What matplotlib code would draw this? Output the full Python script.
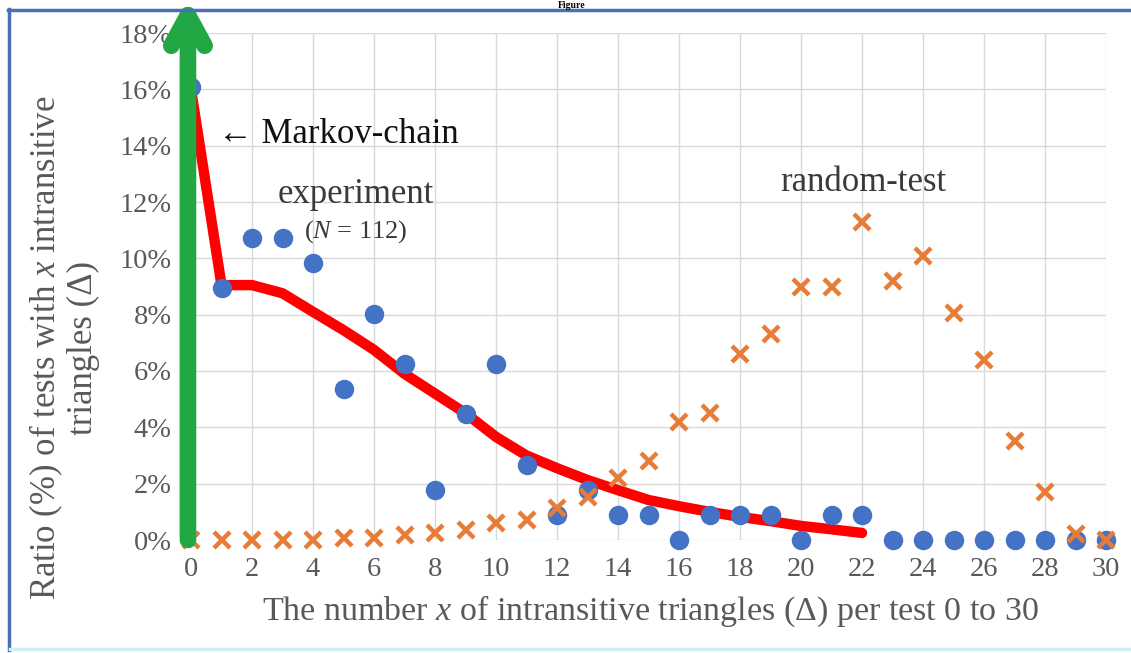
import matplotlib
matplotlib.use("Agg")
import matplotlib.pyplot as plt
from matplotlib.lines import Line2D
from matplotlib.ticker import MultipleLocator, FuncFormatter

plt.rcParams['font.family'] = ['Liberation Serif', 'DejaVu Serif']
plt.rcParams['mathtext.fontset'] = 'custom'
plt.rcParams['mathtext.rm'] = 'Liberation Serif'
plt.rcParams['mathtext.it'] = 'Liberation Serif:italic'

# ---- data ----
x_values = list(range(0, 31))
experiment = [16.07, 8.93, 10.71, 10.71, 9.82, 5.36, 8.04, 6.25, 1.79, 4.46,
              6.25, 2.68, 0.89, 1.79, 0.89, 0.89, 0.0, 0.89, 0.89, 0.89,
              0.0, 0.89, 0.89, 0.0, 0.0, 0.0, 0.0, 0.0, 0.0, 0.0, 0.0]
random_test = [0.0, 0.0, 0.0, 0.0, 0.0, 0.08, 0.08, 0.17, 0.25, 0.36,
               0.6, 0.7, 1.14, 1.53, 2.2, 2.8, 4.2, 4.5, 6.6, 7.3,
               9.0, 9.0, 11.3, 9.2, 10.1, 8.05, 6.4, 3.5, 1.7, 0.2, 0.0]
markov_x = list(range(0, 23))
markov = [16.0, 9.05, 9.05, 8.76, 8.1, 7.45, 6.75, 5.9, 5.2, 4.5, 3.66,
          3.0, 2.55, 2.13, 1.77, 1.42, 1.2, 1.0, 0.82, 0.67, 0.5, 0.38, 0.25]

W, H = 1131, 653
fig = plt.figure(figsize=(W / 100, H / 100), dpi=100)

def fx(px):
    return px / W

def fy(py):
    return 1 - py / H

ax = fig.add_axes([fx(191), fy(540), fx(1106) - fx(191), fy(33) - fy(540)])
ax.set_xlim(0, 30)
ax.set_ylim(0, 18)
ax.xaxis.set_major_locator(MultipleLocator(2))
ax.yaxis.set_major_locator(MultipleLocator(2))
ax.yaxis.set_major_formatter(FuncFormatter(lambda v, p: f"{v:.0f}%"))
ax.grid(True, color='#D9D9D9', linewidth=1.0)
ax.set_axisbelow(True)
for s in ax.spines.values():
    s.set_visible(False)
ax.tick_params(length=0, labelsize=20.5, labelcolor='#595959')
ax.tick_params(axis='y', pad=14)
ax.tick_params(axis='x', pad=12)

ax.plot(markov_x, markov, color='#FF0000', linewidth=7.5, solid_capstyle='round',
        solid_joinstyle='round', zorder=3)
ax.plot(x_values, experiment, linestyle='none', marker='o', markersize=13,
        color='#4472C4', zorder=4, clip_on=False)
ax.plot(x_values, random_test, linestyle='none', marker='x', markersize=11,
        markeredgewidth=3.2, color='#E67C35', zorder=5, clip_on=False)

# green arrow along the y axis
ax.annotate('', xy=(-0.1, 19.25), xytext=(-0.1, 0.0),
            arrowprops=dict(arrowstyle='->,head_length=1.1,head_width=0.6',
                            mutation_scale=20, color='#21A845', linewidth=12,
                            capstyle='round', joinstyle='round',
                            shrinkA=0, shrinkB=0),
            zorder=6, annotation_clip=False)

# annotations
ax.text(0.9, 14.4, '\u2190 Markov-chain', fontsize=25, color='#111111',
        ha='left', va='center', zorder=7)
ax.text(5.4, 12.25, 'experiment', fontsize=25, color='#3a3a3a',
        ha='center', va='center', zorder=7)
ax.text(5.4, 10.95, '($N$ = 112)', fontsize=19, color='#3a3a3a',
        ha='center', va='center', zorder=7)
ax.text(22.05, 12.7, 'random-test', fontsize=25, color='#3a3a3a',
        ha='center', va='center', zorder=7)

# axis labels
fig.text(fx(650), fy(611), 'The number $x$ of intransitive triangles (\u0394) per test 0 to 30',
         fontsize=24.5, color='#595959', ha='center', va='center')
fig.text(fx(64), fy(348), 'Ratio (%) of tests with $x$ intransitive\ntriangles (\u0394)',
         fontsize=25, color='#595959', ha='center', va='center', rotation=90,
         multialignment='center', linespacing=1.1)

# frame
fig.add_artist(Line2D([fx(9), fx(9)], [fy(9), fy(650)], color='#4A6FB5', linewidth=2.5))
fig.add_artist(Line2D([fx(8), fx(1131)], [fy(9.5), fy(9.5)], color='#4A6FB5', linewidth=2.5))
fig.add_artist(Line2D([fx(10), fx(1131)], [fy(649), fy(649)], color='#CFEFF5', linewidth=2.5))
fig.text(fx(572), fy(0.5), 'Figure', fontsize=7, fontweight='bold', color='black',
         ha='center', va='top')

fig.savefig('out.png', dpi=100)
